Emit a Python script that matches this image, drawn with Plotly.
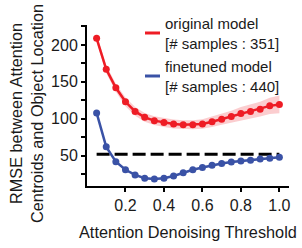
import plotly.graph_objects as go

thresholds = [0.05, 0.10, 0.15, 0.20, 0.25, 0.30, 0.35, 0.40, 0.45, 0.50,
              0.55, 0.60, 0.65, 0.70, 0.75, 0.80, 0.85, 0.90, 0.95, 1.00]
original_rmse = [209, 167, 142, 123, 110, 102, 97.5, 95, 93, 92,
                 92, 93, 96, 99.5, 103, 107, 110, 113, 117.5, 119.5]
original_err = [5, 5.5, 5.5, 6, 6, 6, 6, 6, 6, 6,
                6, 6.5, 7, 7.5, 8, 9, 9.5, 10, 11, 12]
finetuned_rmse = [108, 62, 42, 31, 24, 19.5, 18.5, 19.5, 22.5, 27,
                  31, 34, 37, 39.5, 41.5, 43, 44, 45.5, 46.5, 48]
finetuned_err = [2, 1.5, 1.5, 1.5, 1.2, 1.2, 1.2, 1.2, 1.2, 1.2,
                 1.2, 1.2, 1.2, 1.2, 1.2, 1.2, 1.2, 1.2, 1.2, 1.2]
reference_level = 52
legend_labels = ["original model<br>[# samples : 351]",
                 "finetuned model<br>[# samples : 440]"]
y_tickvals = [25, 50, 75, 100, 125, 150, 175, 200, 225]
y_ticktext = ["", "50", "", "100", "", "150", "", "200", ""]
x_tickvals = [0.2, 0.4, 0.6, 0.8, 1.0]
x_ticktext = ["0.2", "0.4", "0.6", "0.8", "1.0"]

RED = "#EE1C25"
BLUE = "#3A52A6"
FONT = "Liberation Sans, Arial, sans-serif"

fig = go.Figure()

def band(x, y, e, color):
    upper = [a + b for a, b in zip(y, e)]
    lower = [a - b for a, b in zip(y, e)]
    fig.add_trace(go.Scatter(x=x + x[::-1], y=upper + lower[::-1], fill="toself",
                             fillcolor=color, line=dict(width=0), mode="lines",
                             hoverinfo="skip", showlegend=False))

band(thresholds, original_rmse, original_err, "rgba(238,28,37,0.22)")
band(thresholds, finetuned_rmse, finetuned_err, "rgba(58,82,166,0.22)")

fig.add_trace(go.Scatter(x=[thresholds[0], thresholds[-1]], y=[reference_level] * 2,
                         mode="lines", line=dict(color="black", width=3, dash="13px,5px"),
                         showlegend=False))
fig.add_trace(go.Scatter(x=thresholds, y=original_rmse, mode="lines+markers",
                         line=dict(color=RED, width=2.5), marker=dict(size=7, color=RED),
                         showlegend=False))
fig.add_trace(go.Scatter(x=thresholds, y=finetuned_rmse, mode="lines+markers",
                         line=dict(color=BLUE, width=2.5), marker=dict(size=7, color=BLUE),
                         showlegend=False))

# plot area geometry (pixels)
L, R, T, B = 87, 13, 25, 62
W, H = 302 - L - R, 248 - T - B

def px(x):
    return (x - L) / W

def py(y):
    return (248 - B - y) / H

shapes = []
annotations = []
for (label, color, ly) in [(legend_labels[0], RED, 33), (legend_labels[1], BLUE, 76)]:
    shapes.append(dict(type="line", xref="paper", yref="paper",
                       x0=px(145), x1=px(160), y0=py(ly), y1=py(ly),
                       line=dict(color=color, width=3)))
    annotations.append(dict(text=label, xref="paper", yref="paper", x=px(163), y=py(ly),
                            xanchor="left", yanchor="middle", showarrow=False, align="left",
                            font=dict(size=15, color="#1a1a1a", family=FONT)))

annotations.append(dict(text="RMSE between Attention<br>Centroids and Object Location",
                        xref="paper", yref="paper", x=px(26), y=py(114), textangle=-90,
                        xanchor="center", yanchor="middle", showarrow=False,
                        font=dict(size=16.3, color="#1a1a1a", family=FONT)))
annotations.append(dict(text="Attention Denoising Threshold", xref="paper", yref="paper",
                        x=px(188), y=py(232), xanchor="center", yanchor="middle",
                        showarrow=False, font=dict(size=16.3, color="#1a1a1a", family=FONT)))

fig.update_layout(
    width=302, height=248, margin=dict(l=L, r=R, t=T, b=B),
    paper_bgcolor="white", plot_bgcolor="white", showlegend=False,
    font=dict(family=FONT, size=16, color="#1a1a1a"),
    shapes=shapes, annotations=annotations,
    xaxis=dict(range=[0, 1.05], tickvals=x_tickvals, ticktext=x_ticktext,
               showgrid=False, zeroline=False, showline=True, linecolor="black",
               linewidth=2, ticks="outside", ticklen=4, tickwidth=1.5, tickcolor="black"),
    yaxis=dict(range=[9, 227], tickvals=y_tickvals, ticktext=y_ticktext,
               showgrid=False, zeroline=False, showline=True, linecolor="black",
               linewidth=2, ticks="outside", ticklen=4, tickwidth=1.5, tickcolor="black"),
)

fig.write_html("out.html")
